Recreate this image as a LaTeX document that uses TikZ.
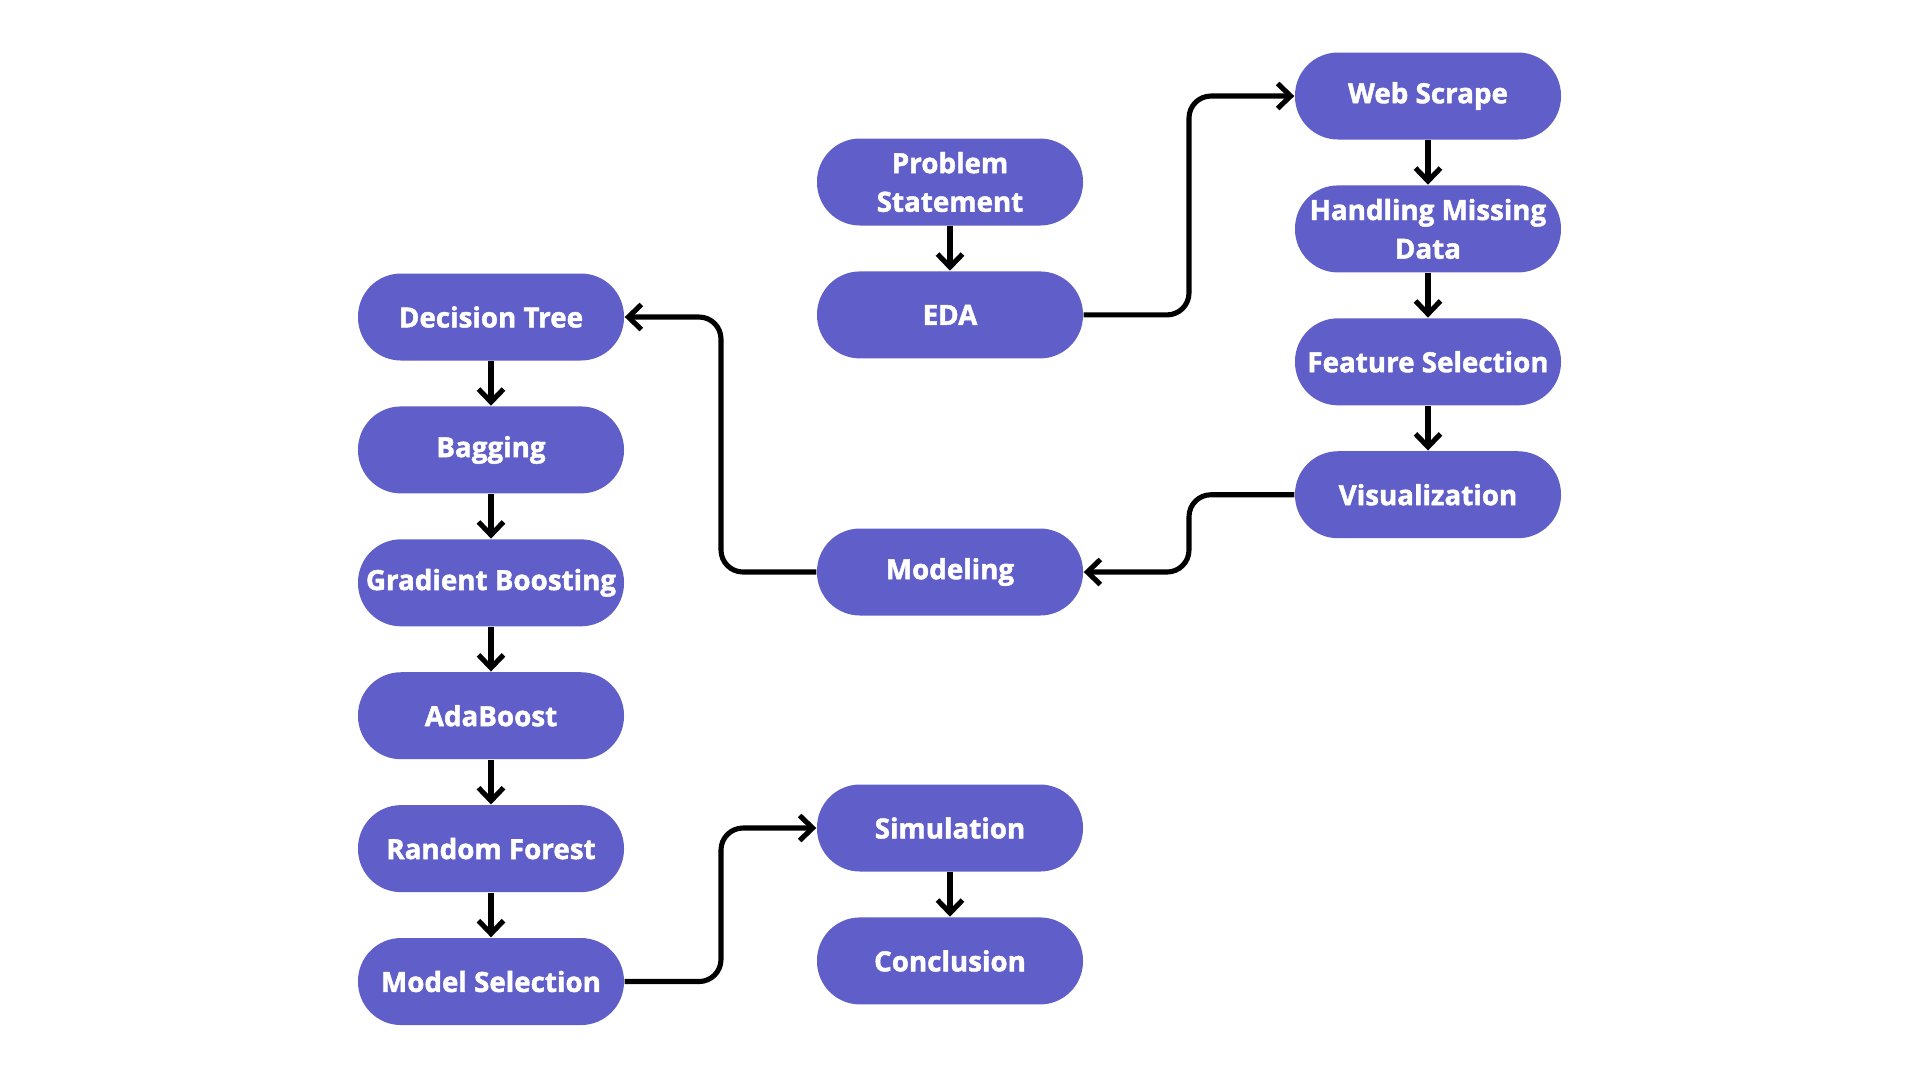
\documentclass[tikz,border=0pt]{standalone}
\usepackage{fontspec}
\setmainfont{Open Sans}[BoldFeatures={FakeBold=1.6}]
\definecolor{pillblue}{RGB}{96,94,200}
\usetikzlibrary{arrows.meta,positioning}

\begin{document}
\begin{tikzpicture}[
      x=0.1mm, y=-0.1mm,
      arr/.style={-{Straight Barb[length=1.3mm, width=2.5mm]}, line width=1.45pt,
                  black, rounded corners=2.2mm},
      pill/.style={fill=pillblue, rounded corners=4.3mm, align=center,
                   text=white, font=\fontsize{7.9}{11}\selectfont\bfseries,
                   minimum width=26.6mm, minimum height=8.7mm, inner sep=1pt},
      node distance=4.45mm
    ]
    \useasboundingbox (0,0) rectangle (1920,1080);
    % middle column
    \node[pill] (prob) at (950,182) {Problem\\Statement};
    \node[pill, below=of prob] (eda) {EDA};
    \node[pill] (model) at (950,572) {Modeling};
    \node[pill] (sim) at (950,828) {Simulation};
    \node[pill, below=of sim] (concl) {Conclusion};
    % right column
    \node[pill] (scrape) at (1428,96) {Web Scrape};
    \node[pill, below=of scrape] (missing) {Handling Missing\\Data};
    \node[pill, below=of missing] (feat) {Feature Selection};
    \node[pill, below=of feat] (vis) {Visualization};
    % left column
    \node[pill] (tree) at (491,317) {Decision Tree};
    \node[pill, below=of tree] (bag) {Bagging};
    \node[pill, below=of bag] (boost) {Gradient Boosting};
    \node[pill, below=of boost] (ada) {AdaBoost};
    \node[pill, below=of ada] (forest) {Random Forest};
    \node[pill, below=of forest] (select) {Model Selection};
    % connectors
    \draw[arr] (prob) -- (eda);
    \draw[arr] (eda.east) -| (1189,0 |- scrape.west) -- (scrape.west);
    \draw[arr] (scrape) -- (missing);
    \draw[arr] (missing) -- (feat);
    \draw[arr] (feat) -- (vis);
    \draw[arr] (vis.west) -| (1189,0 |- model.east) -- (model.east);
    \draw[arr] (model.west) -| (721,0 |- tree.east) -- (tree.east);
    \draw[arr] (tree) -- (bag);
    \draw[arr] (bag) -- (boost);
    \draw[arr] (boost) -- (ada);
    \draw[arr] (ada) -- (forest);
    \draw[arr] (forest) -- (select);
    \draw[arr] (select.east) -| (721,0 |- sim.west) -- (sim.west);
    \draw[arr] (sim) -- (concl);
  \end{tikzpicture}
\end{document}
